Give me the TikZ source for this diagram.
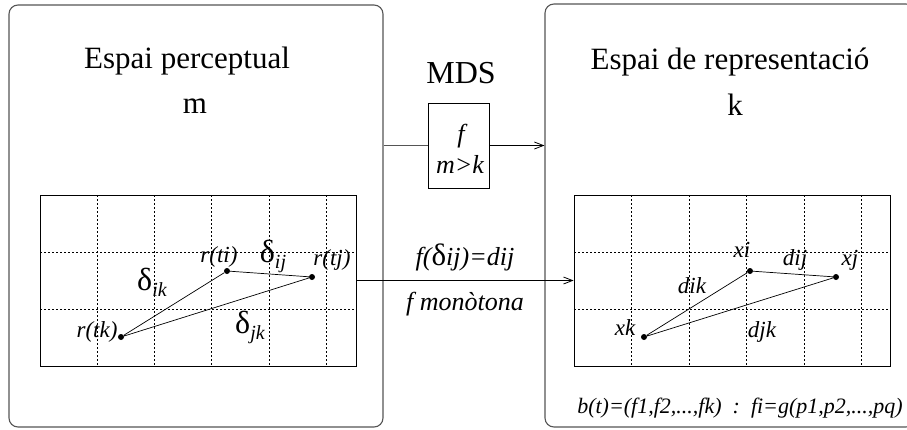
\documentclass[tikz,border=0pt]{standalone}
\usepackage{fontspec}
\setmainfont{Liberation Serif}
\usetikzlibrary{positioning,arrows.meta}
\definecolor{mdsgray}{HTML}{555555}
\newcommand{\dlt}[1]{{\fontsize{32}{34}\selectfont δ}\raisebox{-6pt}{\itshape #1}}

\begin{document}
\begin{tikzpicture}[
  x=1pt, y=-1pt,
  panel/.style={draw=mdsgray, line width=1.1pt, rounded corners=9pt, inner sep=0pt},
  gridbox/.style={draw, line width=0.8pt, inner sep=0pt, minimum width=316pt, minimum height=171pt},
  gridline/.style={line width=0.7pt, dash pattern=on 2pt off 2pt},
  fbox/.style={draw, line width=0.8pt, inner sep=0pt, minimum width=61pt, minimum height=85pt},
  dot/.style={circle, fill, inner sep=0pt, minimum size=6pt},
  flow/.style={-{Straight Barb[length=9pt,width=7pt]}, line width=0.8pt},
  ttl/.style={font=\fontsize{31}{36}\selectfont, anchor=base, inner sep=0pt},
  lbl/.style={font=\fontsize{23}{26}\selectfont\itshape, anchor=base, inner sep=0pt},
  mid/.style={font=\fontsize{26}{30}\selectfont\itshape, anchor=base, inner sep=0pt}
]
\useasboundingbox (0,0) rectangle (907,429);
% Panels
\node[panel, minimum width=374pt, minimum height=422pt] (lpanel) at (196,216) {};
\node[panel, minimum width=370pt, minimum height=423pt] (rpanel) at (730,215.5) {};
\node[ttl] (ltitle) at (187,68) {Espai perceptual};
\node[ttl] (ldim) at (195,113) {m};
\node[ttl] (rtitle) at (730,69) {Espai de representació};
\node[ttl] (rdim) at (735,115) {k};
% MDS box
\node[ttl, font=\fontsize{32}{36}\selectfont] (mds) at (461,83) {MDS};
\node[fbox] (f) at (458.5,145.5) {};
\node[mid] (fname) at (461,142) {f};
\node[mid] (fcond) at (460,173) {m>k};
\draw[line width=0.8pt, draw=mdsgray] (f.west -| lpanel.east) -- (f.west);
\draw[flow] (f.east) -- (f.east -| rpanel.west);
% Perceptual grid
\node[gridbox] (lgrid) at (198,280.5) {};
\foreach \gx in {97,154.3,211.6,268.9,326.2}
  \draw[gridline] (\gx,195) -- (\gx,366);
\foreach \gy in {252,309}
  \draw[gridline] (40,\gy) -- (356,\gy);
\node[dot] (ti) at (227,271) {};
\node[dot] (tj) at (312,277) {};
\node[dot] (tk) at (121,337) {};
\draw[line width=0.7pt] (tk) -- (ti) -- (tj) -- (tk);
\node[lbl] at (219,262) {r(ti)};
\node[lbl] at (332,265) {r(tj)};
\node[lbl] at (97,337) {r(tk)};
\node[lbl, font=\fontsize{20}{24}\selectfont] at (273,262) {\dlt{ij}};
\node[lbl, font=\fontsize{20}{24}\selectfont] at (152,290) {\dlt{ik}};
\node[lbl, font=\fontsize{20}{24}\selectfont] at (250,333) {\dlt{jk}};
% Representation grid
\node[gridbox] (rgrid) at (732,280.5) {};
\foreach \gx in {631.5,689,746.5,804,861.5}
  \draw[gridline] (\gx,195) -- (\gx,366);
\foreach \gy in {252,309}
  \draw[gridline] (574,\gy) -- (890,\gy);
\node[dot] (xi) at (750,271) {};
\node[dot] (xj) at (836,277) {};
\node[dot] (xk) at (644,337) {};
\draw[line width=0.7pt] (xk) -- (xi) -- (xj) -- (xk);
\node[lbl] at (742,257) {xi};
\node[lbl] at (795,265) {dij};
\node[lbl] at (850,265) {xj};
\node[lbl] at (692,293) {dik};
\node[lbl] at (625,335) {xk};
\node[lbl] at (762,337) {djk};
\node[lbl, font=\fontsize{22}{26}\selectfont\itshape] (feat) at (740,413) {b(t)=(f1,f2,...,fk)\ \ :\ \ fi=g(p1,p2,...,pq)};
% Mapping
\draw[flow] (lgrid.east) -- node[mid, yshift=15pt] {f({\upshape\fontsize{31}{34}\selectfont δ}ij)=dij} node[mid, yshift=-30pt] {f monòtona} (rgrid.west);
\end{tikzpicture}
\end{document}
